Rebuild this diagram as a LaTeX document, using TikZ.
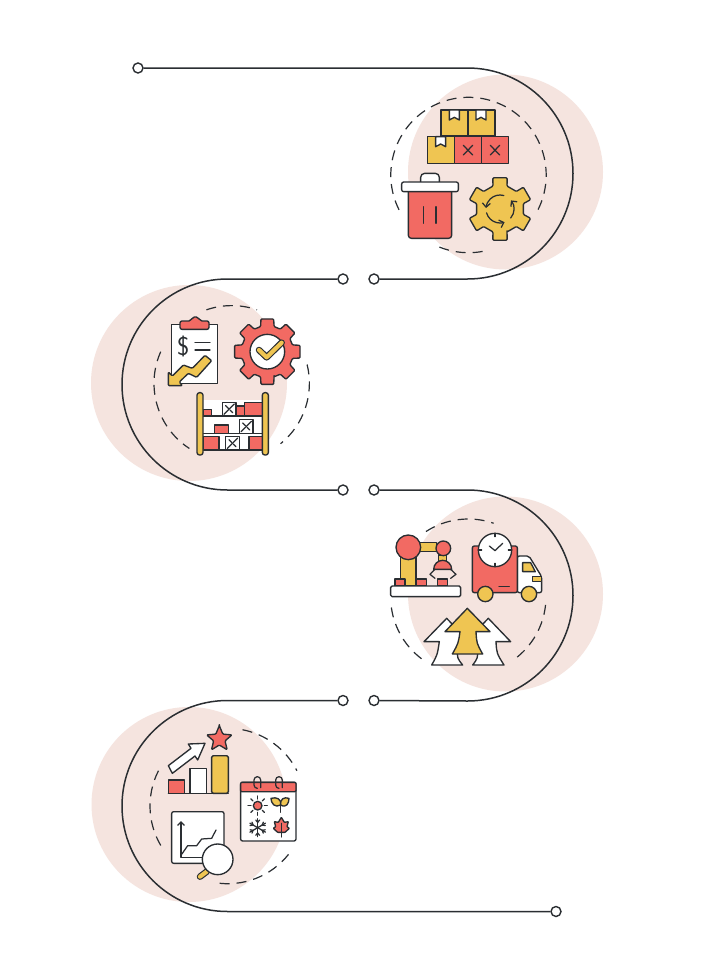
\documentclass[tikz,border=0pt]{standalone}
\usepackage{xcolor}
\usetikzlibrary{calc}
\usetikzlibrary{arrows.meta}

\definecolor{ink}{HTML}{2A2E32}
\definecolor{blush}{HTML}{F5E4DF}
\definecolor{tomato}{HTML}{F26A63}
\definecolor{honey}{HTML}{EFC552}

% fogaskerek: kozeppont, kulso sugar, belso sugar, szin, fogszam, szelesseg
\newcommand{\gearIcon}[7]{%
  \draw[part={#5},rounded corners=1pt,shift={(#1,#2)}] ({90-#7}:#4)
    \foreach \i in {1,...,#6} {
      -- ({90+(\i-1)*360/#6-#7+4}:#3) -- ({90+(\i-1)*360/#6+#7-4}:#3)
      -- ({90+(\i-1)*360/#6+#7}:#4) -- ({90+\i*360/#6-#7}:#4)
    } -- cycle;
}
% polc doboz
\newcommand{\crateIcon}[2]{%
  \draw[part={white}] (#1,#2) rectangle +(41,41);
  \draw[stroke] (#1+5,#2+36) -- +(31,-31);
  \draw[stroke] (#1+10,#2+10) -- +(8,8);
  \draw[stroke] (#1+23,#2+23) -- +(8,8);
}

\begin{document}
\begin{tikzpicture}[
    x=1pt,y=1pt,yscale=-1,
    % --- Styles ---
    link/.style = {color=#1, line width=1.5pt},          % main line
    guide/.style = {color=#1, line width=1.2pt, dash pattern=on 10pt off 7pt}, % dashed ring
    point/.style = {circle,draw=ink,fill=white,line width=1.4pt,inner sep=0pt,minimum size=10pt}, % end dots
    part/.style = {draw=ink,fill=#1,line width=1.35pt,line join=round},     % icon part
    stroke/.style = {draw=ink,line width=1.25pt,line cap=round,line join=round}, % icon line
    curl/.style = {stroke,-{Straight Barb[length=4pt,width=8pt]}}           % arrow in icon
    ]
    \useasboundingbox (0,0) rectangle (703,980);
    \fill[white] (0,0) rectangle (703,980);

    % --- Parameters ---
    \def\r{105.5}    % radius of the main line
    \def\q{77.7}     % radius of the dashed rings

    % --- Background discs ---
    \fill[blush] (505.5,172) circle (97.5);
    \fill[blush] (189,383) circle (98);
    \fill[blush] (505.5,594) circle (97.5);
    \fill[blush] (189,804.5) circle (97.5);

    % --- End dots ---
    \node[point] (start) at (138,68) {};
    \node[point] (gapOneR) at (374,279) {};
    \node[point] (gapOneL) at (343,279) {};
    \node[point] (gapTwoL) at (343,490) {};
    \node[point] (gapTwoR) at (374,490) {};
    \node[point] (gapThreeR) at (374,700.5) {};
    \node[point] (gapThreeL) at (343,700.5) {};
    \node[point] (finish) at (556,911.5) {};

    % --- Main line ---
    \draw[link={ink}] (start) -- (467.5,68) arc (-90:90:\r) -- (gapOneR);
    \draw[link={ink}] (gapOneL) -- (227.5,279) arc (-90:-270:\r) -- (gapTwoL);
    \draw[link={ink}] (gapTwoR) -- (467.5,490) arc (-90:90:\r) -- (gapThreeR);
    \draw[link={ink}] (gapThreeL) -- (227.5,700.5) arc (-90:-270:\r) -- (finish);

    % --- Dashed rings ---
    \draw[guide={ink}] (468.5,175) ++(153.4:\q) arc (153.4:387:\q);
    \draw[guide={ink}] (468.5,175) ++(112:\q) arc (112:75:\q);
    \draw[guide={ink}] (231.7,383.3) ++(-109:\q) arc (-109:-71:\q);
    \draw[guide={ink}] (231.7,383.3) ++(-156:\q) arc (-156:-237:\q);
    \draw[guide={ink}] (231.7,383.3) ++(-14:\q) arc (-14:51:\q);
    \draw[guide={ink}] (468.3,596.7) ++(-123:\q) arc (-123:-71:\q);
    \draw[guide={ink}] (468.3,596.7) ++(172:\q) arc (172:125:\q);
    \draw[guide={ink}] (468.3,596.7) ++(6:\q) arc (6:53:\q);
    \draw[guide={ink}] (227.7,806) ++(-79:\q) arc (-79:-27:\q);
    \draw[guide={ink}] (227.7,806) ++(-153:\q) arc (-153:-215:\q);
    \draw[guide={ink}] (227.7,806) ++(96:\q) arc (96:34.5:\q);

    % --- Boxes, bin and gear ---
    \begin{scope}[shift={(380,60)},scale=1/3]
        \draw[part={honey}] (183,150) rectangle (264,228);
        \draw[part={honey}] (264,150) rectangle (345,228);
        \draw[part={honey}] (142,230) rectangle (223,311);
        \draw[part={tomato}] (223,230) rectangle (304,311);
        \draw[part={tomato}] (304,230) rectangle (385,311);
        \foreach \x/\y in {208/150,288/150,167/230} {
            \draw[part={white}] (\x,\y) -- +(30,0) -- +(30,30) -- +(15,22) -- +(0,30) -- cycle;
        }
        \foreach \x in {264,345} {
            \draw[stroke] (\x-14,256) -- (\x+14,285);
            \draw[stroke] (\x+14,256) -- (\x-14,285);
        }
        \draw[part={white},rounded corners=4pt] (122,366) -- (122,340) -- (178,340) -- (178,366);
        \draw[part={tomato},rounded corners=3pt] (85,390) -- (85,535) -- (215,535) -- (215,390);
        \draw[part={white},rounded corners=2pt] (65,366) rectangle (235,395);
        \draw[stroke] (130,440) -- (130,490);
        \draw[stroke] (168,440) -- (168,490);
        \gearIcon{360}{447}{96}{72}{honey}{6}{17}
        \draw[curl] (360,447) ++(-74:42) arc (-74:-176:42);
        \draw[curl] (360,447) ++(164:42) arc (164:71:42);
        \draw[curl] (360,447) ++(40:42) arc (40:-38:42);
    \end{scope}

    % --- Clipboard, gear and shelf ---
    \begin{scope}[shift={(85,270)},scale=1/3]
        \draw[part={white}] (260,163) rectangle (397,340);
        \draw[part={tomato},rounded corners=2pt] (285,178) -- (285,153) -- (318,153) -- (322,141) -- (340,141) -- (345,153) -- (372,153) -- (372,178) -- cycle;
        \node[font=\fontsize{26}{26}\sffamily,text=ink,inner sep=0pt] (dollar) at (295,230) {\$};
        \draw[stroke] (330,218) -- (375,218);
        \draw[stroke] (330,240) -- (375,240);
        \draw[part={honey},rounded corners=1pt] (360,256) -- (380,272) -- (335,322) -- (310,310) -- (283,336) -- (292,347) -- (250,347) -- (250,306) -- (262,318) -- (295,285) -- (322,295) -- cycle;
        \gearIcon{547}{245}{100}{78}{tomato}{8}{15}
        \draw[part={white}] (547,245) circle (52);
        \draw[ink,line width=6.5pt,line cap=round,line join=round] (522,240) -- (545,262) -- (590,218);
        \draw[honey,line width=4.2pt,line cap=round,line join=round] (522,240) -- (545,262) -- (590,218);
        % polc
        \fill[white] (354,390) rectangle (532,540);
        \draw[part={tomato}] (355,418) rectangle (380,438);
        \draw[part={tomato}] (452,408) rectangle (478,438);
        \draw[part={tomato}] (478,397) rectangle (532,438);
        \draw[part={tomato}] (388,465) rectangle (430,490);
        \draw[part={tomato}] (354,500) rectangle (402,540);
        \draw[part={tomato}] (492,500) rectangle (532,540);
        \crateIcon{412}{397}
        \crateIcon{463}{449}
        \crateIcon{422}{499}
        \foreach \y in {438,490,540} {
            \draw[stroke] (354,\y) -- (532,\y);
        }
        \draw[part={honey},rounded corners=2.5pt] (336,368) rectangle (354,555);
        \draw[part={honey},rounded corners=2.5pt] (532,368) rectangle (550,555);
    \end{scope}

    % --- Robot arm, truck and arrows ---
    \begin{scope}[shift={(380,480)},scale=1/3]
        \draw[part={honey}] (62,230) rectangle (108,318);
        \draw[part={honey}] (115,188) rectangle (170,215);
        \draw[part={tomato}] (85,202) circle (37);
        \draw[part={honey}] (175,225) rectangle (200,246);
        \draw[part={tomato}] (190,205) circle (22);
        \draw[part={tomato}] (161,268) arc (180:360:27) -- cycle;
        \draw[stroke] (165,268) -- (150,283) -- (165,295);
        \draw[stroke] (212,268) -- (228,283) -- (212,295);
        \foreach \x/\w in {45/30,110/30,172/31} {
            \draw[part={tomato}] (\x,297) rectangle +(\w,21);
        }
        \draw[part={white},rounded corners=1.5pt] (32,318) rectangle (242,350);
        % teherauto
        \draw[part={white},rounded corners=2pt] (412,228) -- (447,228) -- (485,290) -- (485,338) -- (412,338) -- cycle;
        \draw[part={honey}] (428,248) -- (452,248) -- (466,275) -- (428,275) -- cycle;
        \draw[part={honey}] (458,290) -- (485,290) -- (485,305) -- (458,305) -- cycle;
        \draw[part={tomato},rounded corners=2pt] (277,198) rectangle (412,338);
        \draw[part={white}] (345,210) circle (50);
        \foreach \a in {0,90,180,270} {
            \draw[stroke] (345,210) ++(\a:50) -- ++(\a+180:10);
        }
        \draw[stroke] (328,198) -- (345,212) -- (368,190);
        \draw[stroke] (357,320) -- (388,320);
        \draw[part={honey}] (316,342) circle (23);
        \draw[part={honey}] (447,342) circle (23);
        % nyilak
        \draw[part={white}] (200,415) -- (248,465) -- (232,510) .. controls (232,535) .. (248,555) -- (155,555) .. controls (172,525) .. (178,485) -- (132,485) -- cycle;
        \draw[part={white}] (325,415) -- (392,485) -- (348,485) .. controls (350,520) .. (372,555) -- (278,555) .. controls (293,535) .. (293,510) -- (277,465) -- cycle;
        \draw[part={honey}] (262,385) -- (330,455) -- (288,455) .. controls (290,490) .. (308,522) -- (217,522) .. controls (235,490) .. (240,455) -- (195,455) -- cycle;
    \end{scope}

    % --- Bars, calendar and chart ---
    \begin{scope}[shift={(85,695)},scale=1/3]
        \draw[part={tomato}] (250,255) rectangle (298,295);
        \draw[part={white}] (315,220) rectangle (365,295);
        \draw[part={honey},rounded corners=1.5pt] (380,182) rectangle (430,295);
        \draw[stroke] (250,295) -- (430,295);
        \draw[part={white}] (262,235) -- (330,183) -- (338,195) -- (360,145) -- (310,147) -- (318,160) -- (250,212) -- cycle;
        \draw[part={tomato},rounded corners=1pt,shift={(403,132)}] (-90:40)
            \foreach \i in {0,...,4} { -- ({-54+72*\i}:18) -- ({-18+72*\i}:40) } -- cycle;
        % naptar
        \draw[part={white},rounded corners=2pt] (467,262) rectangle (633,438);
        \draw[part={tomato},rounded corners=1pt] (467,262) rectangle (633,290);
        \foreach \x in {517,582} {
            \draw[stroke] (\x+10,278) -- (\x+10,255) arc (0:-180:10) -- (\x-10,270) arc (180:90:10);
        }
        \draw[part={tomato}] (518,332) circle (13);
        \foreach \a in {0,45,...,315} {
            \draw[stroke] (518,332) ++(\a:20) -- ++(\a:9);
        }
        \draw[part={honey}] (587,330) .. controls (570,340) and (558,325) .. (558,310) .. controls (575,305) and (590,312) .. (587,330) -- cycle;
        \draw[part={honey}] (587,330) .. controls (604,340) and (612,325) .. (612,310) .. controls (598,305) and (584,312) .. (587,330) -- cycle;
        \draw[stroke] (587,325) -- (587,352);
        \foreach \a in {30,90,...,330} {
            \draw[stroke] (518,398) -- ++(\a:27);
            \draw[stroke] (518,398) ++(\a:16) -- ++(\a+40:9);
            \draw[stroke] (518,398) ++(\a:16) -- ++(\a-40:9);
        }
        \draw[part={tomato},rounded corners=0.5pt] (589,367) -- (598,382) -- (610,380) -- (606,395) -- (613,400) -- (600,412) -- (578,412) -- (565,400) -- (572,395) -- (568,380) -- (580,382) -- cycle;
        \draw[stroke] (589,385) -- (589,426);
        % diagram
        \draw[part={white},rounded corners=2pt] (260,350) rectangle (417,505);
        \draw[stroke,-{Straight Barb[length=3.5pt,width=7pt]}] (365,487) -- (288,487) -- (288,378);
        \draw[stroke] (290,478) -- (308,452) -- (335,452) -- (350,432) -- (380,430) -- (393,405);
        \draw[ink,line width=6.5pt,line cap=round] (365,530) -- (345,545);
        \draw[honey,line width=4.2pt,line cap=round] (365,530) -- (345,545);
        \draw[part={white}] (398,493) circle (46);
    \end{scope}
\end{tikzpicture}
\end{document}
